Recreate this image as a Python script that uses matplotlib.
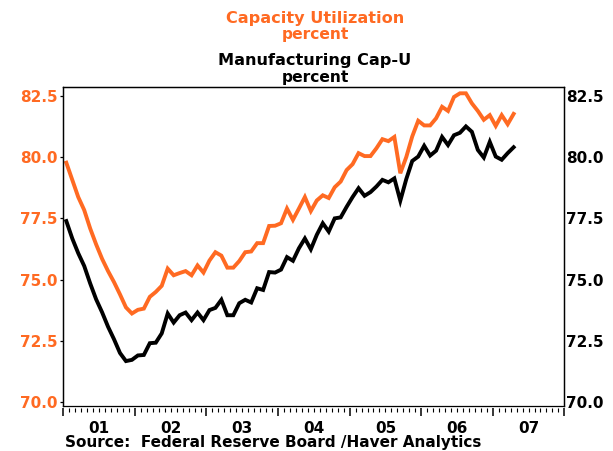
import numpy as np
import matplotlib
matplotlib.use("Agg")
import matplotlib.pyplot as plt
from matplotlib.ticker import MultipleLocator, FixedLocator, NullFormatter

# monthly, Jan 2001 .. Apr 2007
start_year = 2001
cap_util = [79.77, 79.07, 78.37, 77.84, 77.09, 76.44, 75.85, 75.35, 74.90, 74.40, 73.87, 73.62,
            73.77, 73.82, 74.30, 74.50, 74.75, 75.45, 75.18, 75.27, 75.35, 75.18, 75.58, 75.29,
            75.78, 76.12, 75.98, 75.49, 75.49, 75.76, 76.12, 76.15, 76.49, 76.49, 77.19, 77.20,
            77.30, 77.90, 77.44, 77.90, 78.37, 77.80, 78.23, 78.44, 78.33, 78.77, 79.00, 79.47,
            79.71, 80.16, 80.04, 80.04, 80.36, 80.73, 80.65, 80.82, 79.34, 80.00, 80.84, 81.48,
            81.29, 81.29, 81.58, 82.05, 81.88, 82.45, 82.60, 82.60, 82.19, 81.88, 81.52, 81.71,
            81.27, 81.71, 81.34, 81.76]
mfg_cap_util = [77.39, 76.68, 76.08, 75.56, 74.85, 74.20, 73.67, 73.08, 72.57, 72.01, 71.68, 71.73,
                71.91, 71.93, 72.41, 72.43, 72.81, 73.62, 73.25, 73.55, 73.66, 73.35, 73.66, 73.35,
                73.76, 73.85, 74.18, 73.55, 73.55, 74.04, 74.18, 74.07, 74.65, 74.58, 75.31, 75.29,
                75.41, 75.92, 75.77, 76.28, 76.68, 76.24, 76.83, 77.30, 76.96, 77.50, 77.54, 77.97,
                78.37, 78.73, 78.42, 78.57, 78.80, 79.07, 78.97, 79.13, 78.22, 79.10, 79.84, 80.02,
                80.46, 80.06, 80.26, 80.82, 80.49, 80.89, 80.99, 81.25, 81.03, 80.29, 79.98, 80.62,
                80.02, 79.89, 80.16, 80.40]
year_labels = ["01", "02", "03", "04", "05", "06", "07"]
y_ticks = [70.0, 72.5, 75.0, 77.5, 80.0, 82.5]

ORANGE = "#FF6A22"
FONT = "DejaVu Sans"

# month index -> decimal year (mid month)
t = start_year + (np.arange(len(cap_util)) + 0.5) / 12.0

fig = plt.figure(figsize=(6.13, 4.51), dpi=100)
ax = fig.add_axes([0.1033, 0.1004, 0.8173, 0.7074])
ax2 = ax.twinx()

ax.plot(t, cap_util, color=ORANGE, lw=2.8, solid_joinstyle="miter")
ax2.plot(t, mfg_cap_util, color="black", lw=2.8, solid_joinstyle="miter")

ylim = (69.86, 82.87)
for a in (ax, ax2):
    a.set_xlim(2001, 2008)
    a.set_ylim(*ylim)
    a.set_yticks(y_ticks)
    for s in a.spines.values():
        s.set_linewidth(0.9)

# left axis: orange labels, small outward ticks
ax.tick_params(axis="y", direction="out", length=2, width=0.9, pad=2,
               labelcolor=ORANGE, labelsize=11)
ax.set_yticklabels([f"{v:.1f}" for v in y_ticks], fontweight="bold", family=FONT)

# right axis: black labels, no ticks
ax2.tick_params(axis="y", length=0, pad=1, labelsize=11)
ax2.set_yticklabels([f"{v:.1f}" for v in y_ticks], fontweight="bold", family=FONT)

# x axis: year ticks + monthly minor ticks hanging below the box
ax.spines["bottom"].set_position(("outward", 2))
ax.spines["bottom"].set_visible(False)
ax.xaxis.set_major_locator(MultipleLocator(1))
ax.xaxis.set_minor_locator(MultipleLocator(1 / 12))
ax.xaxis.set_major_formatter(NullFormatter())
ax.tick_params(axis="x", which="major", direction="out", length=5.5, width=1.1)
ax.tick_params(axis="x", which="minor", direction="out", length=3, width=0.8)
ax2.tick_params(axis="x", which="both", length=0)

# year labels at mid-year
sec = ax.secondary_xaxis("bottom")
sec.xaxis.set_major_locator(FixedLocator([start_year + i + 0.5 for i in range(len(year_labels))]))
sec.set_xticklabels(year_labels, fontweight="bold", family=FONT, fontsize=11)
sec.tick_params(axis="x", length=0, pad=11)
sec.spines["bottom"].set_visible(False)

# titles
fig.text(0.514, 0.960, "Capacity Utilization", color=ORANGE, ha="center", va="center",
         fontsize=11.6, fontweight="bold", family=FONT)
fig.text(0.514, 0.923, "percent", color=ORANGE, ha="center", va="center",
         fontsize=11.2, fontweight="bold", family=FONT)
fig.text(0.514, 0.866, "Manufacturing Cap-U", color="black", ha="center", va="center",
         fontsize=11.6, fontweight="bold", family=FONT)
fig.text(0.514, 0.829, "percent", color="black", ha="center", va="center",
         fontsize=11.2, fontweight="bold", family=FONT)

fig.text(65 / 613, 1 - 442 / 451, "Source:  Federal Reserve Board /Haver Analytics",
         ha="left", va="center", fontsize=11, fontweight="bold", family=FONT)

fig.savefig("out.png", dpi=100)
